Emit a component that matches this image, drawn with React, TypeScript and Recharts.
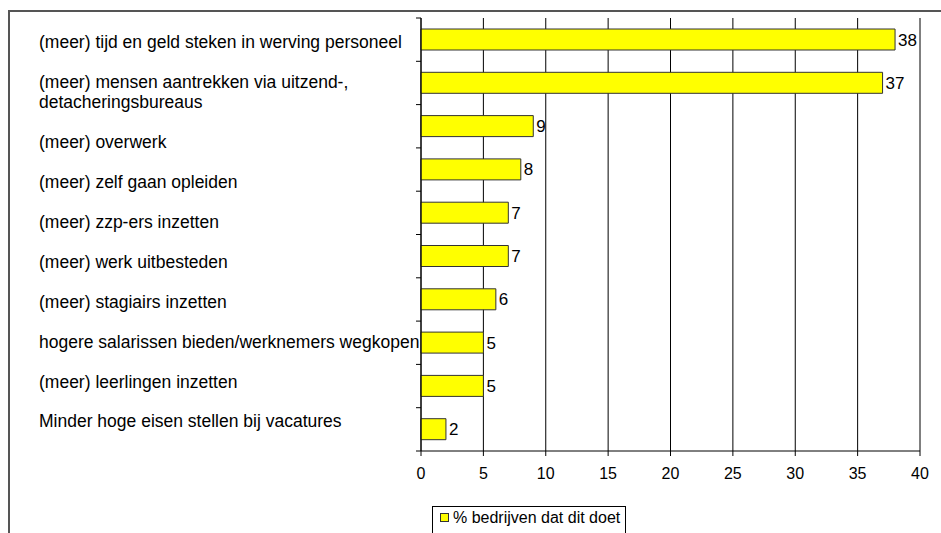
import { BarChart, Bar, XAxis, YAxis, CartesianGrid, LabelList } from 'recharts';

const categories = [
  '(meer) tijd en geld steken in werving personeel',
  '(meer) mensen aantrekken via uitzend-,\ndetacheringsbureaus',
  '(meer) overwerk',
  '(meer) zelf gaan opleiden',
  '(meer) zzp-ers inzetten',
  '(meer) werk uitbesteden',
  '(meer) stagiairs inzetten',
  'hogere salarissen bieden/werknemers wegkopen',
  '(meer) leerlingen inzetten',
  'Minder hoge eisen stellen bij vacatures',
];
const values = [38, 37, 9, 8, 7, 7, 6, 5, 5, 2];
const xTicks = [0, 5, 10, 15, 20, 25, 30, 35, 40];
const seriesName = '% bedrijven dat dit doet';

const data = categories.map((name, i) => ({ name, value: values[i] }));

const FONT = '"Liberation Sans", Arial, sans-serif';
const LABEL_INDENT = 382; // from the y axis back to the left edge of the category labels
// the category labels sit on a slightly tighter pitch than the bars (as in the original export)
const LABEL_PITCH = 0.923;
const LABEL_SHIFT = 22;

const CategoryTick = (props: any) => {
  const { x, y, payload, index, visibleTicksCount } = props;
  const lines = String(payload.value).split('\n');
  const half = payload.offset ?? 0;
  const band = half * 2;
  const firstCenter = y - index * band;
  const lineH = 20;
  // y of the last line of the label
  const lastY = index === 0 ? y + 2 : firstCenter + LABEL_SHIFT + index * band * LABEL_PITCH;
  const startY = lastY - (lines.length - 1) * lineH;
  return (
    <g>
      <line x1={x - 5} x2={x} y1={y - half} y2={y - half} stroke="#000" />
      {index === visibleTicksCount - 1 && (
        <line x1={x - 5} x2={x} y1={y + half} y2={y + half} stroke="#000" />
      )}
      <text x={x - LABEL_INDENT} y={startY} textAnchor="start" fontSize={17.5} fontFamily={FONT} fill="#000">
        {lines.map((l, i) => (
          <tspan key={i} x={x - LABEL_INDENT} dy={i === 0 ? '0.35em' : lineH}>
            {l}
          </tspan>
        ))}
      </text>
    </g>
  );
};

export default function App() {
  return (
    <div style={{ position: 'absolute', left: 0, top: 0, width: 941, height: 533, overflow: 'hidden', background: '#fff', fontFamily: FONT }}>
      <div style={{ position: 'absolute', left: 8, top: 10, width: 1000, height: 600, border: '2px solid #555', boxSizing: 'border-box' }} />
      <div style={{ position: 'absolute', left: 0, top: 0 }}>
        <BarChart
          width={941}
          height={533}
          data={data}
          layout="vertical"
          margin={{ top: 18, right: 21, left: 0, bottom: 52 }}
          barSize={21}
        >
          <CartesianGrid horizontal={false} stroke="#000" strokeWidth={1} />
          <XAxis
            type="number"
            domain={[0, 40]}
            ticks={xTicks}
            interval={0}
            height={30}
            axisLine={{ stroke: '#000' }}
            tickLine={{ stroke: '#000' }}
            tickSize={5}
            tickMargin={12}
            tick={{ fontSize: 16, fill: '#000', fontFamily: FONT }}
          />
          <XAxis
            xAxisId="top"
            orientation="top"
            type="number"
            domain={[0, 40]}
            height={0}
            tick={false}
            tickLine={false}
            axisLine={{ stroke: '#000' }}
          />
          <YAxis
            type="category"
            dataKey="name"
            width={421}
            interval={0}
            axisLine={{ stroke: '#000' }}
            tickLine={false}
            tickSize={0}
            tickMargin={0}
            tick={<CategoryTick />}
          />
          <Bar dataKey="value" name={seriesName} fill="#FFFF00" stroke="#333" strokeWidth={1} isAnimationActive={false}>
            <LabelList dataKey="value" position="right" offset={3} fill="#000" fontSize={17} fontFamily={FONT} />
          </Bar>
        </BarChart>
      </div>
      <div
        style={{
          position: 'absolute',
          left: 432,
          top: 506,
          width: 194,
          height: 32,
          border: '1px solid #000',
          background: '#fff',
          boxSizing: 'border-box',
          fontSize: 16,
          color: '#000',
        }}
      >
        <span
          style={{
            position: 'absolute',
            left: 7,
            top: 6,
            width: 7,
            height: 7,
            background: '#FFFF00',
            border: '1px solid #333',
          }}
        />
        <span style={{ position: 'absolute', left: 20, top: 2, whiteSpace: 'nowrap' }}>{seriesName}</span>
      </div>
    </div>
  );
}
